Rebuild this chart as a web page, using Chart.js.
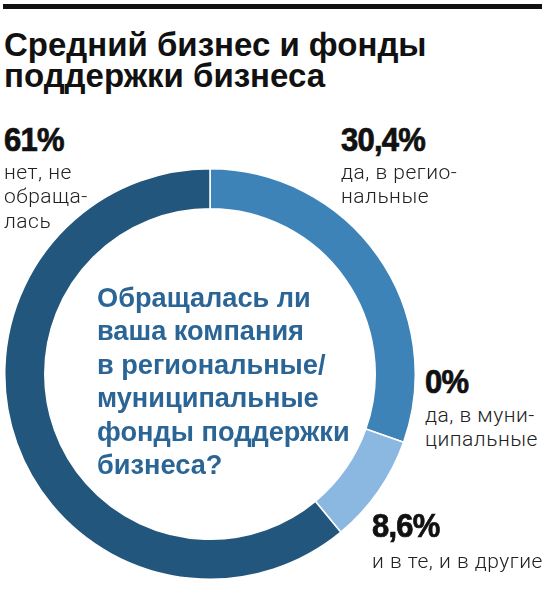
<!DOCTYPE html>
<html>
<head>
<meta charset="utf-8">
<script src="https://cdn.jsdelivr.net/npm/chart.js@4"></script>
<style>
  body { margin: 0; background: #fff; width: 549px; height: 593px; position: relative; overflow: hidden; }
  .bar { position: absolute; left: 3px; top: 4px; width: 539px; height: 5px; background: #111; }
  .title { position: absolute; left: 4px; top: 30px; font: bold 33px/30.5px "Liberation Sans", Arial, sans-serif; color: #111; }
  .pct { position: absolute; font: bold 31px/31px "Liberation Sans", sans-serif; color: #111; letter-spacing: -0.8px; -webkit-text-stroke: 0.7px #111; transform: scaleY(1.05); transform-origin: left bottom; }
  .lbl { position: absolute; font: 300 21px/24.5px Roboto, sans-serif; color: #222; letter-spacing: 0.5px; }
  .center { position: absolute; left: 97px; top: 281px; font: bold 27.2px/33.4px "Liberation Sans", Arial, sans-serif; color: #2a6596; }
  #wrap { position: absolute; left: 4px; top: 168px; width: 412px; height: 412px; }
</style>
</head>
<body>
<div class="bar"></div>
<div class="title">Средний бизнес и фонды<br>поддержки бизнеса</div>
<div id="wrap"><canvas id="chart" width="412" height="412"></canvas></div>
<div class="center">Обращалась ли<br>ваша компания<br>в региональные/<br>муниципальные<br>фонды поддержки<br>бизнеса?</div>
<div id="labels"></div>
<script>
const categories = ['да, в региональные', 'да, в муниципальные', 'и в те, и в другие', 'нет, не обращалась'];
const values = [30.4, 0, 8.6, 61];
const pctLabels = ['30,4%', '0%', '8,6%', '61%'];
const captions = [['да, в регио-', 'нальные'], ['да, в муни-', 'ципальные'], ['и в те, и в другие'], ['нет, не', 'обраща-', 'лась']];
const colors = ['#3e83b7', '#3e83b7', '#8ab8e1', '#23567d'];

// [left, top of number, top of caption]
const labelPos = [[341, 125, 159.5], [425, 367, 402.5], [372, 511, 548.5], [4, 125, 159.5]];

const box = document.getElementById('labels');
labelPos.forEach((p, i) => {
    const pct = document.createElement('div');
    pct.className = 'pct';
    pct.style.left = p[0] + 'px';
    pct.style.top = p[1] + 'px';
    pct.textContent = pctLabels[i];
    box.appendChild(pct);
    const lbl = document.createElement('div');
    lbl.className = 'lbl';
    lbl.style.left = p[0] + 'px';
    lbl.style.top = p[2] + 'px';
    lbl.innerHTML = captions[i].join('<br>');
    box.appendChild(lbl);
});

const ctx = document.getElementById('chart').getContext('2d');
new Chart(ctx, {
    type: 'doughnut',
    data: {
        labels: categories,
        datasets: [{
            data: values,
            backgroundColor: colors,
            borderColor: '#fff',
            borderWidth: 1.5
        }]
    },
    options: {
        responsive: false,
        animation: false,
        cutout: '80.5%',
        layout: { padding: 0 },
        plugins: {
            legend: { display: false },
            tooltip: { enabled: false }
        }
    }
});
</script>
</body>
</html>
